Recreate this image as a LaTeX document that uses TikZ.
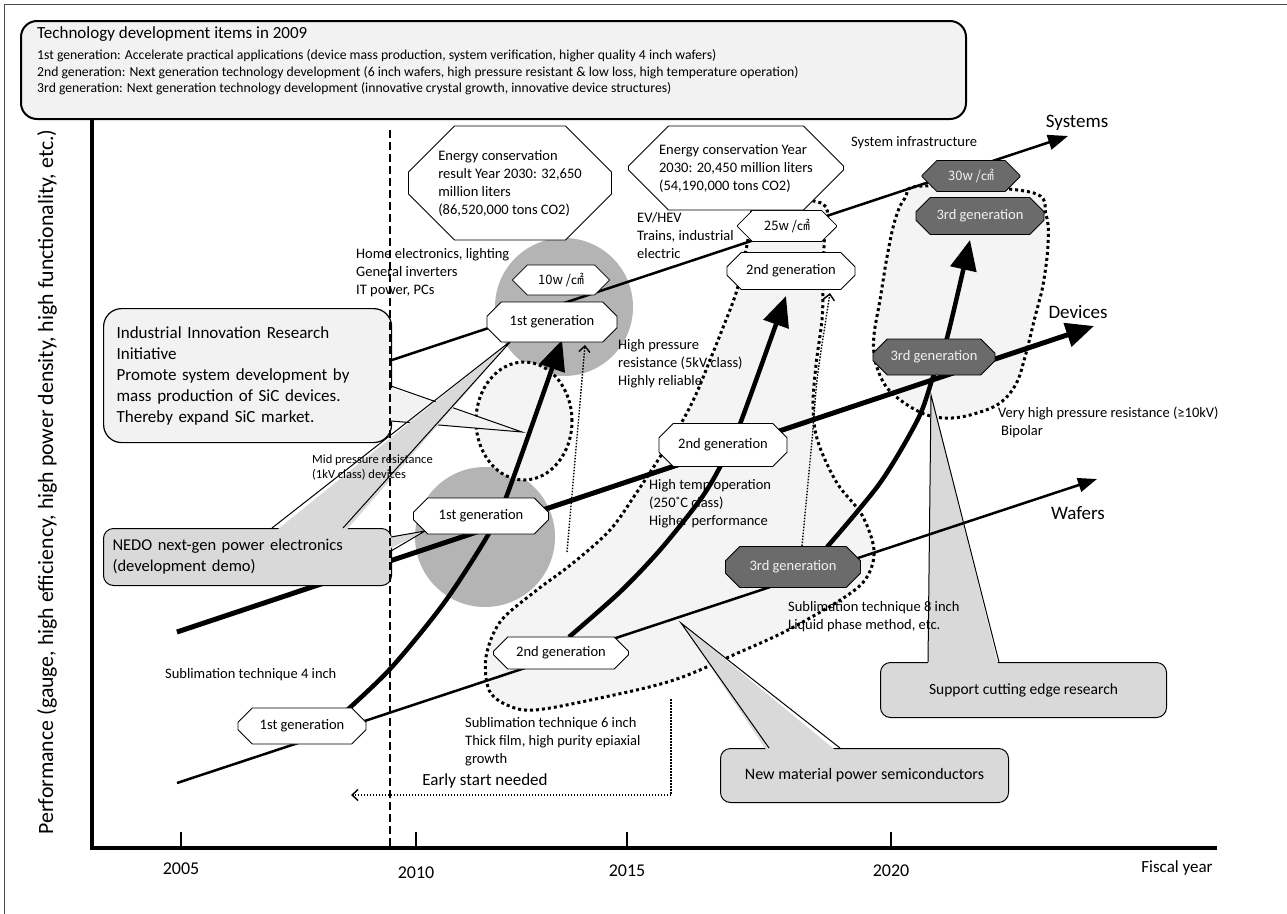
\documentclass[tikz,border=0pt]{standalone}
\usepackage{fontspec}
\setmainfont{Carlito}
\newfontfamily\cjkfont{Noto Sans CJK JP}
\usetikzlibrary{shapes.misc,arrows.meta}
\definecolor{titlefill}{HTML}{F2F2F2}
\definecolor{blobfill}{HTML}{F4F4F4}
\definecolor{calloutfill}{HTML}{D9D9D9}
\definecolor{circlefill}{HTML}{B4B4B4}
\definecolor{darknode}{HTML}{6B6B6B}
\definecolor{darktext}{HTML}{F2F2F2}
\begin{document}
\begin{tikzpicture}[x=1pt,y=-1pt,
  gen/.style={chamfered rectangle, chamfered rectangle xsep=8pt, chamfered rectangle ysep=8pt, draw, line width=0.8pt, fill=white, inner sep=0pt, font=\fontsize{14.5}{17}\selectfont},
  darkgen/.style={gen, fill=darknode, text=darktext},
  pw/.style={gen, font=\cjkfont\fontsize{13}{16}\selectfont},
  darkpw/.style={pw, fill=darknode, text=darktext},
  octbox/.style={chamfered rectangle, draw, line width=0.8pt, fill=white, align=left, inner sep=0pt, font=\fontsize{14.5}{18}\selectfont},
  note/.style={anchor=west, align=left, inner sep=0pt, font=\fontsize{14.5}{18}\selectfont},
  smallnote/.style={anchor=west, align=left, inner sep=0pt, font=\fontsize{12.5}{15}\selectfont},
  biglabel/.style={inner sep=0pt, font=\fontsize{19}{22}\selectfont},
  yearlabel/.style={inner sep=0pt, font=\fontsize{18}{21}\selectfont},
  trend/.style={line width=2.5pt},
  bigarrow/.style={line width=4.5pt, -{Triangle[length=30pt,width=26pt]}},
  thickdot/.style={line width=3pt, dash pattern=on 3pt off 3pt},
  thindot/.style={line width=1.4pt, dash pattern=on 1.5pt off 1.5pt},
  callout/.style={draw, line width=1pt, rounded corners=10pt, fill=calloutfill, inner sep=0pt},
  tailedge/.style={line width=1pt, line join=miter},
]
\useasboundingbox (0,0) rectangle (1287,913);
\fill[white] (0,0) rectangle (1287,913);
\draw[line width=1pt, black!70] (4,4) rectangle (1295,921);

% title box
\node[draw, line width=2pt, rounded corners=16pt, fill=titlefill, minimum width=945pt, minimum height=98pt, anchor=north west, inner sep=0pt] (titlebox) at (20,20) {};
\node[anchor=west, inner sep=0pt, font=\fontsize{17}{20}\selectfont] (ttl) at (37,34) {Technology development items in 2009};
\node[anchor=west, inner sep=0pt, font=\fontsize{13.7}{16}\selectfont] (gen1) at (37,56) {1st generation: Accelerate practical applications (device mass production, system verification, higher quality 4 inch wafers)};
\node[anchor=west, inner sep=0pt, font=\fontsize{13.7}{16}\selectfont] (gen2) at (37,72.5) {2nd generation: Next generation technology development (6 inch wafers, high pressure resistant \& low loss, high temperature operation)};
\node[anchor=west, inner sep=0pt, font=\fontsize{13.7}{16}\selectfont] (gen3) at (37,89) {3rd generation: Next generation technology development (innovative crystal growth, innovative device structures)};

% y axis label
\node[rotate=90, inner sep=0pt, font=\fontsize{21.8}{25}\selectfont] (ylab) at (47,482) {Performance (gauge, high efficiency, high power density, high functionality, etc.)};

% gray circles
\node[circle, fill=circlefill, minimum size=138pt, inner sep=0pt] (circA) at (564,307) {};
\node[circle, fill=circlefill, minimum size=140pt, inner sep=0pt] (circB) at (485,537) {};

% dotted regions
\filldraw[fill=blobfill, thickdot] plot[smooth cycle, tension=0.55] coordinates {
  (758,204) (747,245) (737,290) (722,330) (710,360) (697,392) (683,420) (660,457)
  (635,495) (610,530) (573,563) (533,593) (500,622) (486,657) (489,690) (507,705)
  (535,710) (600,698) (674,680) (740,652) (788,630) (845,597) (867,577) (874,550)
  (862,515) (837,483) (818,442) (813,407) (816,365) (822,320) (823,290) (824,245) (823,204)};
\filldraw[fill=blobfill, thickdot] plot[smooth cycle, tension=0.6] coordinates {
  (922,186) (905,198) (895,220) (887,257) (880,300) (874,335) (875,360) (885,385)
  (903,402) (927,415) (952,418) (977,413) (1000,403) (1016,384) (1025,357) (1035,317)
  (1043,285) (1048,245) (1046,215) (1030,192)};
\filldraw[fill=blobfill, thickdot] (524,421) ellipse[x radius=48pt, y radius=59pt];

% callouts behind lines
\node[draw, line width=1.2pt, rounded corners=18pt, fill=titlefill, minimum width=288pt, minimum height=134pt, anchor=north west, text width=262pt, align=left, inner xsep=13pt, inner ysep=0pt, font=\fontsize{17}{21}\selectfont] (iir) at (103,308) {Industrial Innovation Research\\Initiative\\Promote system development by\\mass production of SiC devices.\\Thereby expand SiC market.};
\coordinate (iirA) at (391,386);
\coordinate (iirTip) at (522,432);
\coordinate (iirB) at (391,421);
\fill[titlefill] ([xshift=-6pt]iirA) -- (iirTip) -- ([xshift=-6pt]iirB) -- cycle;
\draw[tailedge] (iirA) -- (iirTip) -- (iirB);

\node[callout, minimum width=286pt, minimum height=55pt, anchor=north west, font=\fontsize{15.5}{18}\selectfont] (sup) at (880,662) {Support cutting edge research};
\coordinate (supA) at (928,662);
\coordinate (supTip) at (931,395);
\coordinate (supB) at (999,662);
\fill[calloutfill] ([yshift=-6pt]supA) -- (supTip) -- ([yshift=-6pt]supB) -- cycle;
\draw[tailedge] (supA) -- (supTip) -- (supB);

\node[callout, minimum width=288pt, minimum height=54pt, anchor=north west, font=\fontsize{16}{19}\selectfont] (nm) at (720,748) {New material power semiconductors};
\coordinate (nmA) at (769,748);
\coordinate (nmTip) at (681,623);
\coordinate (nmB) at (840,748);
\fill[calloutfill] ([yshift=-6pt]nmA) -- (nmTip) -- ([yshift=-6pt]nmB) -- cycle;
\draw[tailedge] (nmA) -- (nmTip) -- (nmB);

% axes
\coordinate (origin) at (92,848);
\coordinate (ytop) at (92,118);
\coordinate (xend) at (1217,848);
\draw[line width=3.5pt] (ytop) -- (origin) -- (xend);
\foreach \xx in {181, 416, 627, 891}{
  \draw[line width=2.5pt] (\xx,848) -- (\xx,832);
}
\node[yearlabel] (y2005) at (181,869) {2005};
\node[yearlabel] (y2010) at (416,873) {2010};
\node[yearlabel] (y2015) at (627,871) {2015};
\node[yearlabel] (y2020) at (891,871) {2020};
\node[inner sep=0pt, font=\fontsize{17}{20}\selectfont] (fy) at (1177,868) {Fiscal year};

% trend lines
\coordinate (sysA) at (392,360);
\coordinate (sysB) at (1068,136);
\coordinate (devA) at (177,632);
\coordinate (devB) at (1094,326);
\coordinate (wafA) at (177,783);
\coordinate (wafB) at (1097,479);
\draw[trend, -{Triangle[length=20pt,width=15pt]}] (sysA) -- (sysB);
\draw[line width=5pt, -{Triangle[length=28pt,width=24pt]}] (devA) -- (devB);
\draw[trend, -{Triangle[length=19pt,width=14pt]}] (wafA) -- (wafB);

% NEDO callout
\node[callout, minimum width=288pt, minimum height=57pt, anchor=north west, text width=270pt, align=left, inner xsep=9pt, font=\fontsize{16.5}{21}\selectfont] (nedo) at (103,528) {NEDO next-gen power electronics\\(development demo)};
\coordinate (nwA) at (272,528);
\coordinate (nwTip) at (512,340);
\coordinate (nwB) at (343,528);
\fill[calloutfill] ([yshift=-6pt]nwA) -- (nwTip) -- ([yshift=-6pt]nwB) -- cycle;
\draw[tailedge] (nwA) -- (nwTip) -- (nwB);
\coordinate (nsA) at (391,537);
\coordinate (nsTip) at (425,531);
\coordinate (nsB) at (391,551);
\fill[calloutfill] ([xshift=-6pt]nsA) -- (nsTip) -- ([xshift=-6pt]nsB) -- cycle;
\draw[tailedge] (nsA) -- (nsTip) -- (nsB);

% 2009 dashed line
\coordinate (dashTop) at (390,130);
\coordinate (dashBot) at (390,848);
\draw[line width=2.5pt, dash pattern=on 8pt off 4pt] (dashTop) -- (dashBot);

% thin dotted arrows
\coordinate (ta1) at (567,552);
\coordinate (tb1) at (585,345);
\draw[thindot, -{Straight Barb[length=6pt,width=11pt]}] (ta1) -- (tb1);
\draw[thindot, -{Straight Barb[length=6pt,width=11pt]}] plot[smooth] coordinates {(802,546) (812,440) (817,380) (825,325) (830,293)};
\coordinate (es1) at (671,699);
\coordinate (es2) at (671,795);
\coordinate (es3) at (351,795);
\draw[thindot, -{Straight Barb[length=6pt,width=11pt]}] (es1) -- (es2) -- (es3);

% big curved arrows
\draw[bigarrow] plot[smooth] coordinates {(345,712) (391,668) (444,603) (488,535) (507,495) (562,340)};
\draw[bigarrow] plot[smooth] coordinates {(569,637) (620,592) (660,550) (700,500) (720,467) (740,424) (786,296)};
\draw[bigarrow] plot[smooth] coordinates {(827,547) (880,483) (918,419) (933,377) (947,338) (970,240)};

% generation boxes
\node[gen, minimum width=130pt, minimum height=40pt] (s1) at (552,322) {1st generation};
\node[pw, minimum width=97pt, minimum height=30pt] (p10) at (561,280) {10w /㎠};
\node[gen, minimum width=128pt, minimum height=37pt] (s2) at (791,271) {2nd generation};
\node[pw, minimum width=99pt, minimum height=31pt] (p25) at (787,226) {25w /㎠};
\node[darkgen, minimum width=128pt, minimum height=37pt] (s3) at (980,216) {3rd generation};
\node[darkpw, minimum width=98pt, minimum height=31pt] (p30) at (971,176) {30w /㎠};
\node[gen, minimum width=135pt, minimum height=36pt] (d1) at (481,516) {1st generation};
\node[gen, minimum width=128pt, minimum height=43pt] (d2) at (723,445) {2nd generation};
\node[darkgen, minimum width=122pt, minimum height=36pt] (d3) at (934,357) {3rd generation};
\node[gen, minimum width=128pt, minimum height=36pt] (w1) at (302,726) {1st generation};
\node[gen, minimum width=135pt, minimum height=32pt] (w2) at (561,653) {2nd generation};
\node[darkgen, minimum width=135pt, minimum height=41pt] (w3) at (793,567) {3rd generation};

% energy octagons
\node[octbox, minimum width=203pt, minimum height=104pt, chamfered rectangle xsep=22pt, chamfered rectangle ysep=24pt] (e1) at (510,183) {Energy conservation\\result Year 2030: 32,650\\million liters\\(86,520,000 tons CO2)};
\node[octbox, minimum width=215pt, minimum height=73pt, chamfered rectangle xsep=22pt, chamfered rectangle ysep=18pt] (e2) at (736,168) {Energy conservation Year\\2030: 20,450 million liters\\(54,190,000 tons CO2)};

% notes
\node[note] (home) at (356,273) {Home electronics, lighting\\General inverters\\IT power, PCs};
\node[note] (ev) at (637,236) {EV/HEV\\Trains, industrial\\electric};
\node[note] (sysinf) at (851,143) {System infrastructure};
\node[note] (hp) at (618,364) {High pressure\\resistance (5kV class)\\Highly reliable};
\node[note] (ht) at (649,504) {High temp operation\\(250˚C class)\\Higher performance};
\node[smallnote] (mid) at (312,468) {Mid pressure resistance\\(1kV class) devices};
\node[note] (sub4) at (165,675) {Sublimation technique 4 inch};
\node[note] (sub6) at (465,742) {Sublimation technique 6 inch\\Thick film, high purity epiaxial\\growth};
\node[note] (sub8) at (788,617) {Sublimation technique 8 inch\\Liquid phase method, etc.};
\node[note] (vhp) at (998,422) {Very high pressure resistance (≥10kV)\\\hspace{3pt}Bipolar};
\node[inner sep=0pt, font=\fontsize{17}{20}\selectfont] (early) at (485,781) {Early start needed};
\node[biglabel] (lsys) at (1077,123) {Systems};
\node[biglabel] (ldev) at (1078,312) {Devices};
\node[biglabel] (lwaf) at (1078,513) {Wafers};
\end{tikzpicture}
\end{document}
